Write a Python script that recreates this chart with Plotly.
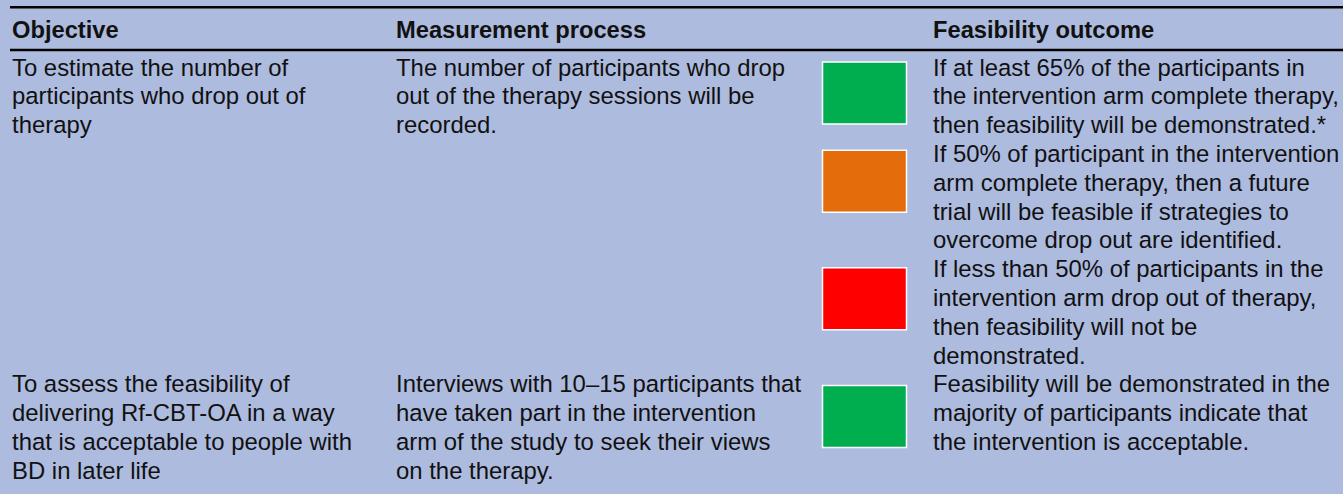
import plotly.graph_objects as go

# ---- table content ----
headers = ["Objective", "Measurement process", "Feasibility outcome"]

objectives = [
    ["To estimate the number of", "participants who drop out of", "therapy"],
    ["To assess the feasibility of", "delivering Rf-CBT-OA in a way",
     "that is acceptable to people with", "BD in later life"],
]

measurements = [
    ["The number of participants who drop", "out of the therapy sessions will be",
     "recorded."],
    ["Interviews with 10\u201315 participants that", "have taken part in the intervention",
     "arm of the study to seek their views", "on the therapy."],
]

outcome_colors = [
    ["#00ad4f", "#e46c0a", "#ff0000"],
    ["#00ad4f"],
]

outcome_texts = [
    [
        ["If at least 65% of the participants in",
         "the intervention arm complete therapy,",
         "then feasibility will be demonstrated.*"],
        ["If 50% of participant in the intervention",
         "arm complete therapy, then a future",
         "trial will be feasible if strategies to",
         "overcome drop out are identified."],
        ["If less than 50% of participants in the",
         "intervention arm drop out of therapy,",
         "then feasibility will not be",
         "demonstrated."],
    ],
    [
        ["Feasibility will be demonstrated in the",
         "majority of participants indicate that",
         "the intervention is acceptable."],
    ],
]

# ---- layout constants (pixel-like axis coordinates) ----
W, H = 1343, 494
BG = "#adbbdf"
TXT = "#111111"
FONT = "Liberation Sans, Arial, Helvetica, sans-serif"
FS = 23.9
HFS = 23.7
col_x = [9.5, 394, 931]
box_x0, box_x1 = 822.5, 906.5
line0_center = 67.0
line_h = 28.8
header_center = 29.7
box_top0 = 62.0
box_step = 29.4
box_h = 62.0
rule_ys = [7.3, 50.0]

fig = go.Figure()
fig.add_trace(go.Scatter(x=[0, W], y=[0, H], mode="markers",
                         marker=dict(opacity=0), hoverinfo="skip", showlegend=False))

annotations = []
shapes = []


def add_line(text, x, yc, size=FS, bold=False):
    annotations.append(dict(
        x=x, y=yc, xref="x", yref="y",
        text=f"<b>{text}</b>" if bold else text, showarrow=False,
        xanchor="left", yanchor="middle", align="left",
        font=dict(family=FONT, size=size, color=TXT),
    ))


for i, h in enumerate(headers):
    add_line(h, col_x[i], header_center, HFS, bold=True)

for y in rule_ys:
    shapes.append(dict(type="line", xref="x", yref="y", x0=10, x1=W, y0=y, y1=y,
                       line=dict(color="#000000", width=2.5)))

row_start = 0
for r in range(len(objectives)):
    for k, t in enumerate(objectives[r]):
        add_line(t, col_x[0], line0_center + (row_start + k) * line_h)
    for k, t in enumerate(measurements[r]):
        add_line(t, col_x[1], line0_center + (row_start + k) * line_h)
    ln = row_start
    for color, lines in zip(outcome_colors[r], outcome_texts[r]):
        top = box_top0 + ln * box_step
        shapes.append(dict(type="rect", xref="x", yref="y",
                           x0=box_x0, x1=box_x1, y0=top, y1=top + box_h,
                           fillcolor=color, line=dict(color="#ffffff", width=1.5),
                           layer="above"))
        for k, t in enumerate(lines):
            add_line(t, col_x[2], line0_center + (ln + k) * line_h)
        ln += len(lines)
    n = max(len(objectives[r]), len(measurements[r]), ln - row_start)
    row_start += n

fig.update_layout(
    width=W, height=H,
    margin=dict(l=0, r=0, t=0, b=0),
    paper_bgcolor=BG, plot_bgcolor=BG,
    xaxis=dict(range=[0, W], visible=False, fixedrange=True),
    yaxis=dict(range=[H, 0], visible=False, fixedrange=True),
    annotations=annotations, shapes=shapes,
    showlegend=False,
)

fig.write_html(
    "out.html",
    config={"displayModeBar": False},
    post_script="document.body.style.margin='0px';document.body.style.overflow='hidden';"
                "document.body.style.background='" + BG + "';",
)
